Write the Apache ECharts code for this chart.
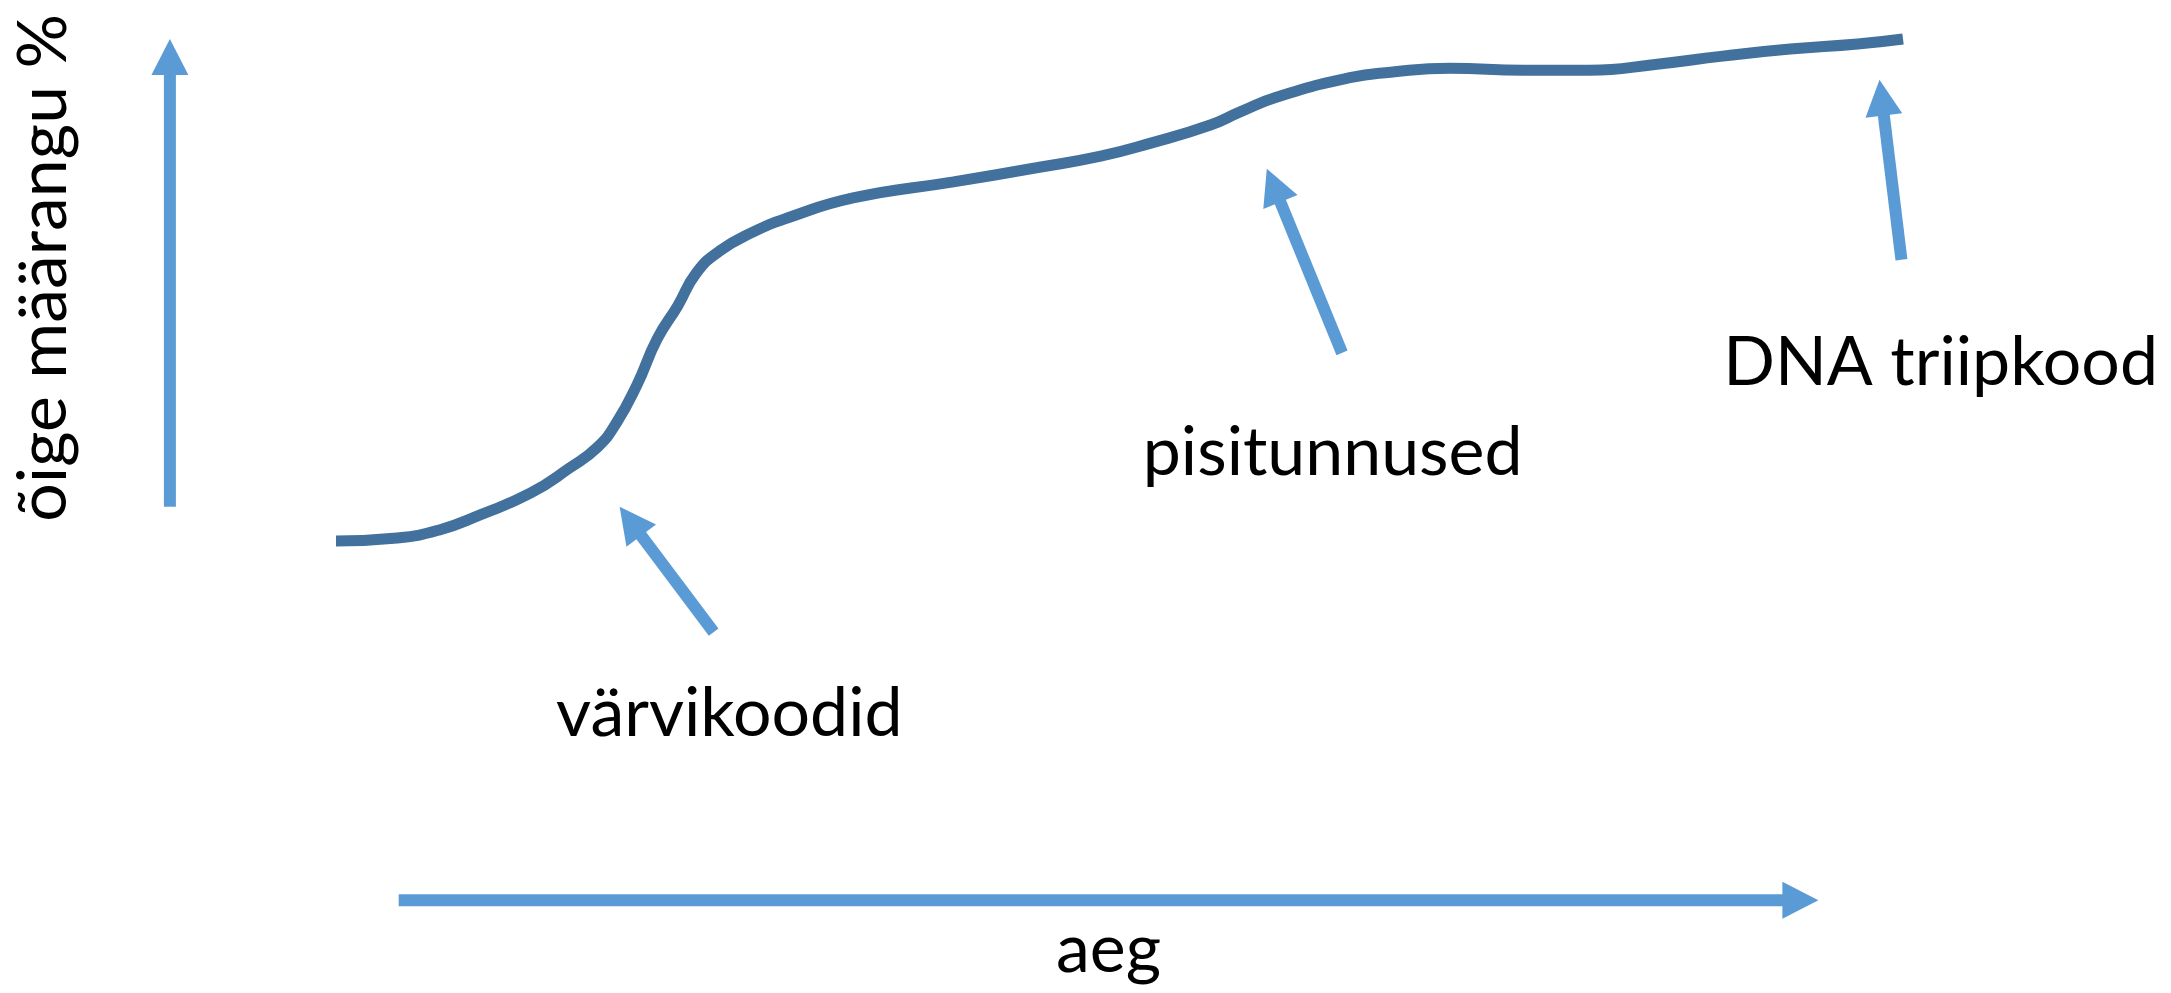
<!DOCTYPE html>
<html><head><meta charset="utf-8">
<script src="https://cdn.jsdelivr.net/npm/echarts@6/dist/echarts.min.js"></script>
<style>html,body{margin:0;padding:0;background:#fff}#c{width:2171px;height:993px}</style>
</head><body><div id="c"></div>
<script>
// Schematic: time (0–100) vs correct identification % (0–100)
const curveTime = [0,3.9,6.6,9.2,12.4,14.9,16.7,17.9,19.2,20.5,21.8,23.0,24.5,26.6,28.8,33.0,39.4,44.7,48.8,52.0,55.8,57.7,60.1,64.7,67.3,71.1,75.8,80.0,84.3,88.5,92.8,97.1,100];
const curveAccuracy = [0,0.6,2.2,5.2,9.5,14.5,18.7,23.5,31.0,40.2,46.7,53.3,57.7,61.4,64.2,68.2,71.4,74.2,76.5,79.1,82.7,85.3,88.3,92.1,93.2,94.0,93.6,93.6,94.8,96.4,97.8,98.8,99.8];

// annotated methods: label, arrow tail, arrow tip, label anchor (data units)
const annoLabels = ['värvikoodid', 'pisitunnused', 'DNA triipkood'];
const annoArrowFrom = [[24.1, -18.1], [64.2, 37.4], [99.9, 55.9]];
const annoArrowTo = [[18.1, 6.8], [59.4, 74.0], [98.5, 91.7]];
const annoLabelAt = [[25.1, -34.4], [63.6, 17.5], [102.4, 35.4]];

// schematic axes (arrows) and their titles
const axisTitles = ['aeg', 'õige määrangu %'];
const axisArrowFrom = [[4.0, -71.4], [-10.6, 6.8]];
const axisArrowTo = [[94.6, -71.4], [-10.6, 99.8]];
const axisTitleAt = [[49.3, -81.3], [-18.6, 54.3]];

const FONT = 'Lato, "Open Sans", sans-serif';
const ARROW = '#5B9BD5';
const CURVE = '#41719C';

const chart = echarts.init(document.getElementById('c'), null, {renderer: 'canvas'});

const arrowData = annoArrowFrom.map((f, i) => [f[0], f[1], annoArrowTo[i][0], annoArrowTo[i][1]])
  .concat(axisArrowFrom.map((f, i) => [f[0], f[1], axisArrowTo[i][0], axisArrowTo[i][1]]));

const textData = annoLabels.map((t, i) => [annoLabelAt[i][0], annoLabelAt[i][1], t, 0])
  .concat(axisTitles.map((t, i) => [axisTitleAt[i][0], axisTitleAt[i][1], t, i === 1 ? 1 : 0]));

function renderArrow(params, api) {
  const p1 = api.coord([api.value(0), api.value(1)]);
  const p2 = api.coord([api.value(2), api.value(3)]);
  const dx = p2[0] - p1[0], dy = p2[1] - p1[1];
  const len = Math.sqrt(dx * dx + dy * dy);
  const ux = dx / len, uy = dy / len;
  const nx = -uy, ny = ux;
  const headLen = 36, headW = 37, shaftW = 12;
  const bx = p2[0] - ux * headLen, by = p2[1] - uy * headLen;
  return {
    type: 'group',
    children: [
      {type: 'line', shape: {x1: p1[0], y1: p1[1], x2: bx + ux * 1, y2: by + uy * 1},
        style: {stroke: ARROW, lineWidth: shaftW, lineCap: 'butt'}},
      {type: 'polygon', shape: {points: [[p2[0], p2[1]],
        [bx + nx * headW / 2, by + ny * headW / 2], [bx - nx * headW / 2, by - ny * headW / 2]]},
        style: {fill: ARROW}}
    ]
  };
}

function renderText(params, api) {
  const p = api.coord([api.value(0), api.value(1)]);
  const rot = api.value(3) ? Math.PI / 2 : 0;
  return {
    type: 'text', x: p[0], y: p[1], rotation: rot,
    style: {text: textData[params.dataIndex][2], fill: '#000', fontSize: 68, fontFamily: FONT,
      align: 'center', verticalAlign: 'middle'}
  };
}

chart.setOption({
  animation: false,
  backgroundColor: '#fff',
  grid: {left: 336, right: 268, top: 38, bottom: 452},
  xAxis: {type: 'value', min: 0, max: 100, show: false},
  yAxis: {type: 'value', min: 0, max: 100, show: false},
  series: [
    {type: 'line', data: curveTime.map((t, i) => [t, curveAccuracy[i]]), smooth: 0.5,
      showSymbol: false, clip: false, lineStyle: {color: CURVE, width: 11, cap: 'butt'}},
    {type: 'custom', renderItem: renderArrow, data: arrowData, clip: false},
    {type: 'custom', renderItem: renderText, data: textData.map(d => [d[0], d[1], 0, d[3]]), clip: false}
  ]
});
</script>
</body></html>
